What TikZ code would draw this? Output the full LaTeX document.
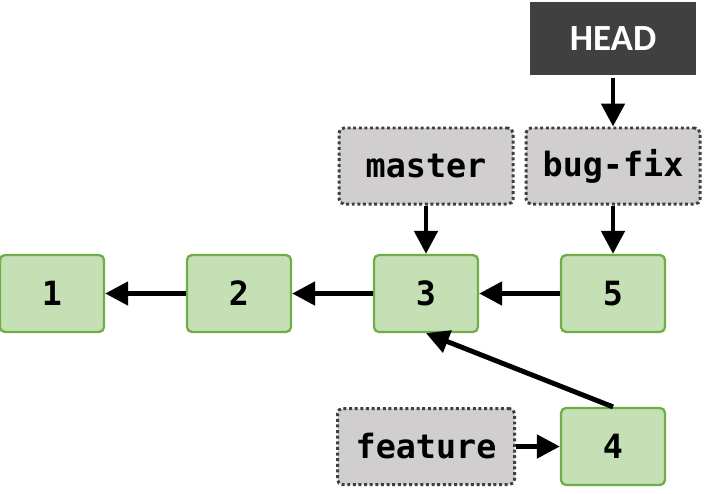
\documentclass[tikz,border=0pt]{standalone}
\usepackage{fontspec}
\setmainfont{Carlito}
\setmonofont{DejaVu Sans Mono}
\usepackage{tikz}
\usetikzlibrary{shapes,arrows.meta}

\definecolor{commitfill}{HTML}{C5E0B4}
\definecolor{commitline}{HTML}{70AD47}
\definecolor{branchfill}{HTML}{D0CECE}
\definecolor{branchline}{HTML}{404040}
\definecolor{headfill}{HTML}{404040}

\begin{document}
\begin{tikzpicture}[node distance = 3.74cm]
  \tikzstyle{commit} = [rectangle, rounded corners=0.1cm, minimum width=2.08cm, minimum height=1.54cm, text centered, draw=commitline, line width=1.3pt, fill=commitfill, font=\ttfamily\bfseries\fontsize{19}{21}\selectfont]
  \tikzstyle{branch} = [rectangle, rounded corners=0.1cm, minimum width=3.48cm, minimum height=1.52cm, text centered, draw=branchline, line width=1.7pt, dash pattern=on 1.7pt off 1.5pt, fill=branchfill, font=\ttfamily\bfseries\fontsize{19}{21}\selectfont]
  \tikzstyle{pointer} = [rectangle, minimum width=3.32cm, minimum height=1.46cm, text centered, fill=headfill, text=white, font=\bfseries\fontsize{21}{24}\selectfont]
  \tikzstyle{arrow} = [line width=2.8pt, -{Triangle[length=0.46cm, width=0.46cm]}]
  \useasboundingbox (-1.04,5.87) rectangle (13.06,-3.99);
  \node (c1) [commit] {1};
  \node (c2) [commit, right of=c1] {2};
  \node (c3) [commit, right of=c2] {3};
  \node (c5) [commit, right of=c3] {5};
  \node (c4) [commit, below of=c5, node distance=3.06cm] {4};
  \node (master) [branch, above of=c3, node distance=2.55cm] {master};
  \node (bugfix) [branch, above of=c5, node distance=2.55cm] {bug-fix};
  \node (feature) [branch, left of=c4, minimum width=3.54cm] {feature};
  \node (head) [pointer, above of=bugfix, node distance=2.55cm] {HEAD};
  \draw [arrow] (c2) -- (c1);
  \draw [arrow] (c3) -- (c2);
  \draw [arrow] (c5) -- (c3);
  \draw [arrow] (c4.north) -- (c3.south);
  \draw [arrow] (feature) -- (c4);
  \draw [arrow] (master) -- (c3);
  \draw [arrow] (bugfix) -- (c5);
  \draw [arrow, shorten <=0.06cm] (head) -- (bugfix);
\end{tikzpicture}
\end{document}
